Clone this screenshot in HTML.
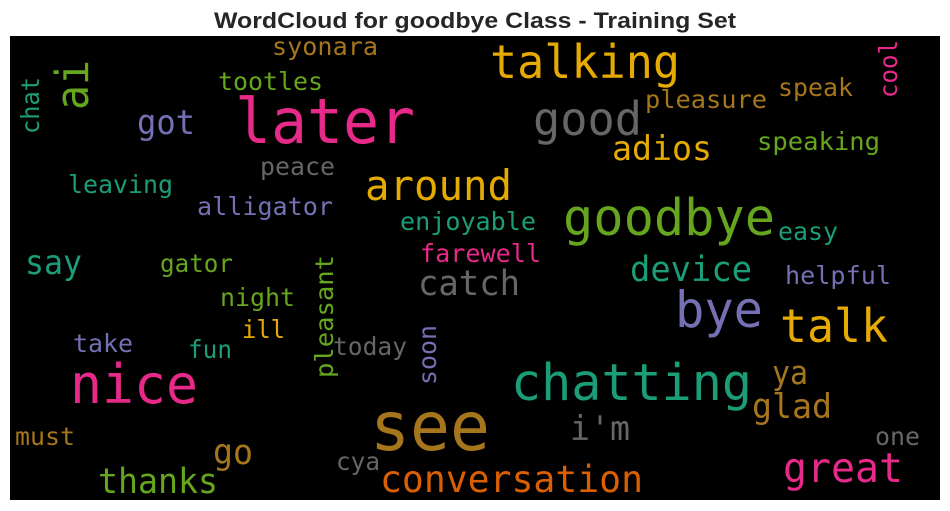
<!DOCTYPE html>
<html><head><meta charset="utf-8"><style>
html,body{margin:0;padding:0;background:#fff;width:950px;height:511px;overflow:hidden}
svg{display:block}
.w{font-family:"DejaVu Sans Mono","Liberation Mono",monospace}
</style></head><body>
<svg width="950" height="511" viewBox="0 0 950 511">
<text x="475" y="28" text-anchor="middle" font-family="Liberation Sans, Arial, sans-serif" font-weight="bold" font-size="22" fill="#262626" textLength="522" lengthAdjust="spacingAndGlyphs">WordCloud for goodbye Class - Training Set</text>
<rect x="10" y="36" width="930" height="464" fill="#000"/>
<g class="w">
<text x="272" y="55" font-size="25" fill="#a6761d" textLength="106" lengthAdjust="spacingAndGlyphs">syonara</text>
<text x="218" y="90" font-size="25" fill="#66a61e" textLength="105" lengthAdjust="spacingAndGlyphs">tootles</text>
<text transform="translate(88,110) rotate(-90)" font-size="45" fill="#66a61e" textLength="50" lengthAdjust="spacingAndGlyphs">ai</text>
<text transform="translate(39,134) rotate(-90)" font-size="25" fill="#1b9e77" textLength="57" lengthAdjust="spacingAndGlyphs">chat</text>
<text x="137" y="134" font-size="34" fill="#7570b3" textLength="58" lengthAdjust="spacingAndGlyphs">got</text>
<text x="235" y="143" font-size="62" fill="#e7298a" textLength="180" lengthAdjust="spacingAndGlyphs">later</text>
<text x="260" y="175" font-size="25" fill="#666666" textLength="75" lengthAdjust="spacingAndGlyphs">peace</text>
<text x="68" y="193" font-size="25" fill="#1b9e77" textLength="105" lengthAdjust="spacingAndGlyphs">leaving</text>
<text x="197" y="215" font-size="25" fill="#7570b3" textLength="136" lengthAdjust="spacingAndGlyphs">alligator</text>
<text x="365" y="200" font-size="42" fill="#e6ab02" textLength="147" lengthAdjust="spacingAndGlyphs">around</text>
<text x="400" y="230" font-size="25" fill="#1b9e77" textLength="136" lengthAdjust="spacingAndGlyphs">enjoyable</text>
<text x="420" y="262" font-size="25" fill="#e7298a" textLength="121" lengthAdjust="spacingAndGlyphs">farewell</text>
<text x="25" y="274" font-size="34" fill="#1b9e77" textLength="57" lengthAdjust="spacingAndGlyphs">say</text>
<text x="160" y="272" font-size="25" fill="#66a61e" textLength="73" lengthAdjust="spacingAndGlyphs">gator</text>
<text x="220" y="306" font-size="25" fill="#66a61e" textLength="75" lengthAdjust="spacingAndGlyphs">night</text>
<text transform="translate(333,378) rotate(-90)" font-size="25" fill="#66a61e" textLength="123" lengthAdjust="spacingAndGlyphs">pleasant</text>
<text x="418" y="295" font-size="35" fill="#666666" textLength="102" lengthAdjust="spacingAndGlyphs">catch</text>
<text x="242" y="338" font-size="25" fill="#e6ab02" textLength="43" lengthAdjust="spacingAndGlyphs">ill</text>
<text x="333" y="355" font-size="25" fill="#666666" textLength="74" lengthAdjust="spacingAndGlyphs">today</text>
<text transform="translate(436,385) rotate(-90)" font-size="25" fill="#7570b3" textLength="60" lengthAdjust="spacingAndGlyphs">soon</text>
<text x="73" y="352" font-size="25" fill="#7570b3" textLength="60" lengthAdjust="spacingAndGlyphs">take</text>
<text x="188" y="358" font-size="25" fill="#1b9e77" textLength="44" lengthAdjust="spacingAndGlyphs">fun</text>
<text x="70" y="403" font-size="54" fill="#e7298a" textLength="128" lengthAdjust="spacingAndGlyphs">nice</text>
<text x="370" y="450" font-size="68" fill="#a6761d" textLength="120" lengthAdjust="spacingAndGlyphs">see</text>
<text x="15" y="445" font-size="25" fill="#a6761d" textLength="60" lengthAdjust="spacingAndGlyphs">must</text>
<text x="213" y="464" font-size="35" fill="#a6761d" textLength="40" lengthAdjust="spacingAndGlyphs">go</text>
<text x="98" y="493" font-size="35" fill="#66a61e" textLength="120" lengthAdjust="spacingAndGlyphs">thanks</text>
<text x="336" y="470" font-size="25" fill="#666666" textLength="44" lengthAdjust="spacingAndGlyphs">cya</text>
<text x="380" y="492" font-size="37" fill="#d95f02" textLength="263" lengthAdjust="spacingAndGlyphs">conversation</text>
<text x="490" y="78" font-size="46" fill="#e6ab02" textLength="190" lengthAdjust="spacingAndGlyphs">talking</text>
<text x="533" y="135" font-size="46" fill="#666666" textLength="109" lengthAdjust="spacingAndGlyphs">good</text>
<text x="645" y="108" font-size="25" fill="#a6761d" textLength="122" lengthAdjust="spacingAndGlyphs">pleasure</text>
<text x="778" y="96" font-size="25" fill="#a6761d" textLength="75" lengthAdjust="spacingAndGlyphs">speak</text>
<text transform="translate(897,98) rotate(-90)" font-size="25" fill="#e7298a" textLength="58" lengthAdjust="spacingAndGlyphs">cool</text>
<text x="612" y="160" font-size="34" fill="#e6ab02" textLength="100" lengthAdjust="spacingAndGlyphs">adios</text>
<text x="757" y="150" font-size="25" fill="#66a61e" textLength="123" lengthAdjust="spacingAndGlyphs">speaking</text>
<text x="563" y="235" font-size="51" fill="#66a61e" textLength="212" lengthAdjust="spacingAndGlyphs">goodbye</text>
<text x="778" y="240" font-size="25" fill="#1b9e77" textLength="60" lengthAdjust="spacingAndGlyphs">easy</text>
<text x="630" y="281" font-size="35" fill="#1b9e77" textLength="122" lengthAdjust="spacingAndGlyphs">device</text>
<text x="785" y="284" font-size="25" fill="#7570b3" textLength="106" lengthAdjust="spacingAndGlyphs">helpful</text>
<text x="675" y="327" font-size="50" fill="#7570b3" textLength="88" lengthAdjust="spacingAndGlyphs">bye</text>
<text x="780" y="342" font-size="46" fill="#e6ab02" textLength="108" lengthAdjust="spacingAndGlyphs">talk</text>
<text x="511" y="400" font-size="51" fill="#1b9e77" textLength="241" lengthAdjust="spacingAndGlyphs">chatting</text>
<text x="772" y="384" font-size="33" fill="#a6761d" textLength="36" lengthAdjust="spacingAndGlyphs">ya</text>
<text x="752" y="418" font-size="34" fill="#a6761d" textLength="80" lengthAdjust="spacingAndGlyphs">glad</text>
<text x="570" y="440" font-size="34" fill="#666666" textLength="60" lengthAdjust="spacingAndGlyphs">i'm</text>
<text x="875" y="445" font-size="25" fill="#666666" textLength="45" lengthAdjust="spacingAndGlyphs">one</text>
<text x="783" y="482" font-size="41" fill="#e7298a" textLength="120" lengthAdjust="spacingAndGlyphs">great</text>
</g>
</svg>
</body></html>
